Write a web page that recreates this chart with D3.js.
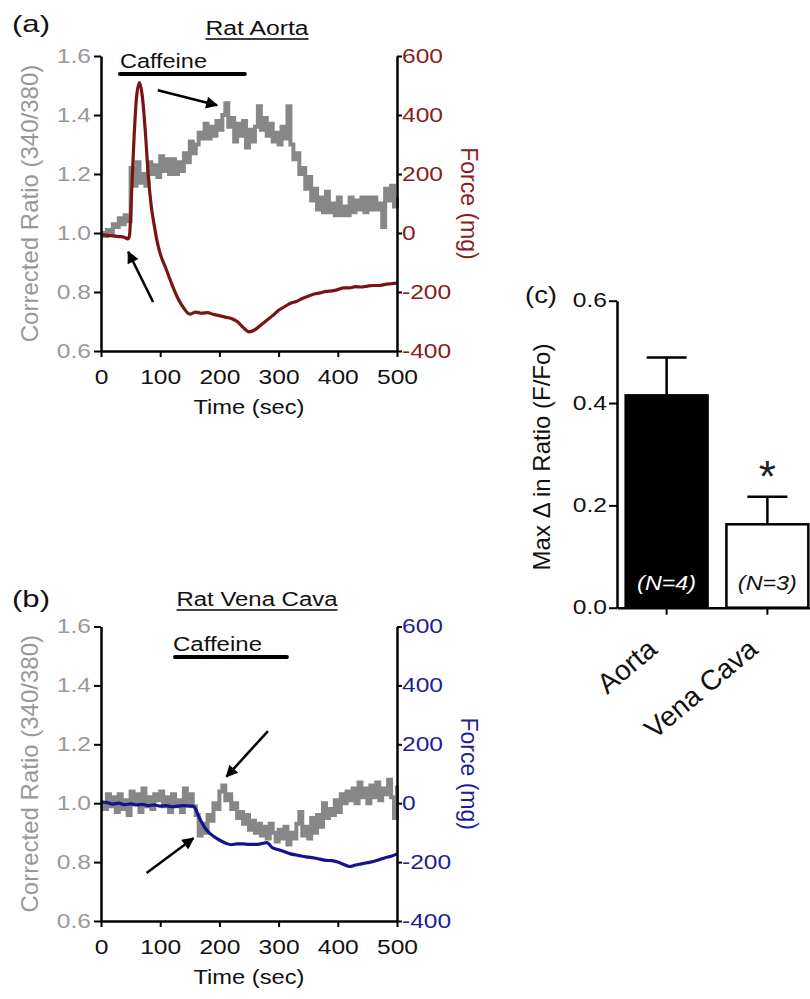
<!DOCTYPE html>
<html><head><meta charset="utf-8">
<script src="https://cdn.jsdelivr.net/npm/d3@7"></script>
<style>body{margin:0;background:#fff}svg text{font-family:"Liberation Sans",Arial,Helvetica,sans-serif}</style>
</head><body><svg id="c" width="810" height="999"></svg>
<script>
// ---------------- data ----------------
const sampleTimes = [0,5,10,15,20,25,30,35,40,45,50,55,60,65,70,75,80,85,90,95,100,105,110,115,120,125,130,135,140,145,150,155,160,165,170,175,180,185,190,195,200,205,210,215,220,225,230,235,240,245,250,255,260,265,270,275,280,285,290,295,300,305,310,315,320,325,330,335,340,345,350,355,360,365,370,375,380,385,390,395,400,405,410,415,420,425,430,435,440,445,450,455,460,465,470,475,480,485,490,495,500];
const ratioAorta = [1.00,0.99,1.01,1.00,1.03,1.02,1.05,1.03,1.06,1.04,1.22,1.16,1.24,1.17,1.20,1.16,1.24,1.20,1.23,1.19,1.26,1.21,1.25,1.20,1.25,1.20,1.24,1.21,1.27,1.24,1.31,1.27,1.30,1.34,1.32,1.37,1.32,1.36,1.33,1.38,1.35,1.40,1.44,1.36,1.39,1.31,1.37,1.33,1.38,1.29,1.35,1.31,1.36,1.43,1.35,1.39,1.33,1.37,1.31,1.34,1.30,1.36,1.32,1.43,1.30,1.25,1.27,1.20,1.22,1.15,1.19,1.11,1.15,1.08,1.12,1.07,1.14,1.07,1.10,1.06,1.12,1.06,1.09,1.06,1.12,1.07,1.11,1.08,1.12,1.07,1.12,1.08,1.12,1.08,1.10,1.02,1.15,1.11,1.16,1.09,1.12];
const forceAortaTimes = [0,10,20,30,40,45,48,52,56,60,65,70,75,80,85,90,95,100,110,120,130,140,150,160,170,180,190,200,210,220,230,240,250,260,270,280,290,300,310,320,330,340,350,360,370,380,390,400,410,420,430,440,450,460,470,480,490,500];
const forceAorta = [-5,-8,-10,-12,-15,-20,-10,150,330,460,510,460,340,190,90,25,-30,-70,-122,-175,-222,-255,-275,-268,-272,-270,-276,-280,-285,-290,-300,-320,-335,-328,-312,-296,-280,-262,-250,-238,-232,-222,-214,-207,-203,-198,-196,-192,-186,-186,-182,-183,-180,-178,-178,-174,-172,-170];
const ratioVena = [1.00,0.98,1.03,0.99,1.02,0.97,1.03,0.98,1.01,0.96,1.04,1.00,1.03,0.97,1.05,0.99,1.02,0.98,1.03,1.01,1.04,0.99,1.02,0.97,1.03,0.99,1.01,0.97,1.05,1.00,1.03,0.99,0.96,0.89,0.93,0.90,0.96,0.94,1.00,0.98,1.04,1.06,1.01,1.03,0.98,1.00,0.95,0.97,0.93,0.96,0.91,0.94,0.90,0.93,0.89,0.92,0.88,0.93,0.90,0.87,0.91,0.88,0.92,0.86,0.90,0.88,0.93,0.97,0.89,0.92,0.88,0.95,0.90,0.96,0.92,1.00,0.95,0.98,0.96,1.01,0.97,1.03,1.00,1.04,1.01,1.05,1.00,1.07,1.02,1.05,1.00,1.06,1.02,1.07,1.01,1.05,1.03,1.08,1.02,0.95,1.06];
const forceVenaTimes = [0,10,20,30,40,50,60,70,80,90,100,110,120,130,140,150,155,160,165,170,175,180,190,200,210,220,230,240,250,260,270,280,290,300,310,320,330,340,350,360,370,380,390,400,410,420,430,440,450,460,470,480,490,500];
const forceVena = [5,2,-3,0,-5,-2,-6,-4,-8,-6,-10,-8,-12,-10,-8,-10,-10,-20,-45,-65,-82,-95,-112,-125,-135,-141,-138,-138,-140,-140,-138,-134,-152,-158,-165,-172,-176,-180,-183,-186,-190,-194,-195,-200,-208,-215,-210,-206,-202,-198,-192,-185,-180,-172];
const ratioTicks = [0.6,0.8,1.0,1.2,1.4,1.6];
const forceTicks = [-400,-200,0,200,400,600];
const timeTicks = [0,100,200,300,400,500];
const caffeineA = [32,243];
const caffeineB = [125,314];
// arrows: [tailTime, tailRatio, headTime, headRatio]
const arrowsA = [[96,1.484,196,1.433],[88,0.766,46,0.936]];
const arrowsB = [[282,1.245,212,1.09],[77,0.763,156,0.881]];
const barCategories = ["Aorta","Vena Cava"];
const barMeans = [0.415,0.163];
const barSEM = [0.074,0.054];
const barN = ["(N=4)","(N=3)"];
const barTicks = [0,0.2,0.4,0.6];

// ---------------- drawing ----------------
const svg = d3.select("#c");
const FS = 19.5, W = 1.26; // font size and horizontal widening of text
function widen(sel, f){ sel.each(function(){ const L=this.getComputedTextLength(); this.setAttribute("textLength",(L*f).toFixed(1)); this.setAttribute("lengthAdjust","spacingAndGlyphs"); }); }
function htext(txt, x, y, opt={}){
  const t = svg.append("text").attr("x",x).attr("y",y).text(txt)
    .attr("font-size", opt.size||FS).attr("fill", opt.fill||"#111")
    .attr("text-anchor", opt.anchor||"start")
    .attr("font-style", opt.italic?"italic":null);
  if (opt.width) { t.attr("textLength",opt.width).attr("lengthAdjust","spacingAndGlyphs"); }
  else widen(t, opt.f||W);
  return t;
}
function vtext(txt, x, y, rot, opt={}){
  return svg.append("text").attr("transform",`translate(${x},${y}) rotate(${rot})`)
    .attr("text-anchor","middle").attr("font-size",opt.size||24).attr("fill",opt.fill||"#111").text(txt);
}
const defs = svg.append("defs");
defs.append("marker").attr("id","ah").attr("viewBox","0 0 10 10").attr("refX",9).attr("refY",5)
  .attr("markerWidth",15).attr("markerHeight",12).attr("markerUnits","userSpaceOnUse").attr("orient","auto")
  .append("path").attr("d","M0,0 L10,5 L0,10 z").attr("fill","#000");

function styleAxis(g, color){
  g.attr("font-family",null);
  g.select(".domain").attr("stroke","#000").attr("stroke-width",2.5);
  g.selectAll(".tick line").attr("stroke","#000").attr("stroke-width",2);
  g.selectAll(".tick text").attr("font-size",FS).attr("fill",color);
  widen(g.selectAll(".tick text"), W);
}

function tracePanel(p){
  const x = d3.scaleLinear().domain([0,500]).range([101,397]);
  const yR = d3.scaleLinear().domain([0.6,1.6]).range([p.bottom,p.top]);
  const yF = d3.scaleLinear().domain([-400,600]).range([p.bottom,p.top]);
  const g = svg.append("g");
  g.append("path").datum(d3.zip(sampleTimes,p.ratio))
    .attr("d", d3.line().x(d=>x(d[0])).y(d=>yR(d[1])).curve(d3.curveStepAfter))
    .attr("fill","none").attr("stroke","#878787").attr("stroke-width",4);
  g.append("path").datum(d3.zip(p.forceT,p.force))
    .attr("d", d3.line().x(d=>x(d[0])).y(d=>yF(d[1])).curve(d3.curveMonotoneX))
    .attr("fill","none").attr("stroke",p.color).attr("stroke-width",3.2);
  const gx = g.append("g").attr("transform",`translate(0,${p.bottom})`)
    .call(d3.axisBottom(x).tickValues(timeTicks).tickSize(6).tickPadding(13).tickSizeOuter(0).tickFormat(d=>String(d)));
  styleAxis(gx,"#111");
  const gl = g.append("g").attr("transform","translate(101,0)")
    .call(d3.axisLeft(yR).tickValues(ratioTicks).tickSize(7).tickPadding(3).tickSizeOuter(0).tickFormat(d3.format(".1f")));
  styleAxis(gl,"#999");
  const gr = g.append("g").attr("transform","translate(397,0)")
    .call(d3.axisRight(yF).tickValues(forceTicks).tickSize(5).tickPadding(0).tickSizeOuter(0).tickFormat(d=>String(d)));
  styleAxis(gr,p.labelColor);
  // caffeine bar
  g.append("line").attr("x1",x(p.caff[0])).attr("x2",x(p.caff[1])).attr("y1",p.caffY).attr("y2",p.caffY)
    .attr("stroke","#000").attr("stroke-width",4).attr("stroke-linecap","round");
  htext("Caffeine", x(p.caff[0])+p.caffDx, p.caffY-6, {width:p.caffW});
  // arrows
  p.arrows.forEach(a=>{
    g.append("line").attr("x1",x(a[0])).attr("y1",yR(a[1])).attr("x2",x(a[2])).attr("y2",yR(a[3]))
      .attr("stroke","#000").attr("stroke-width",2.5).attr("marker-end","url(#ah)");
  });
  // titles & labels
  htext(p.panel, 12, p.panelY, {size:24, width:38});
  htext(p.title, 257, p.titleY, {anchor:"middle", width:p.titleW});
  g.append("line").attr("x1",257-p.titleW/2).attr("x2",257+p.titleW/2).attr("y1",p.titleY+4).attr("y2",p.titleY+4)
    .attr("stroke","#000").attr("stroke-width",1.6);
  htext("Time (sec)", 249, p.bottom+63, {anchor:"middle", width:111});
  vtext("Corrected Ratio (340/380)", 38, (p.top+p.bottom)/2, -90, {fill:"#999"});
  vtext("Force (mg)", 461, (p.top+p.bottom)/2, 90, {fill:p.labelColor, size:23});
}

tracePanel({top:56, bottom:351, ratio:ratioAorta, forceT:forceAortaTimes, force:forceAorta,
  color:"#7a1414", labelColor:"#8a1c1c", caff:caffeineA, caffY:74, caffDx:0, caffW:87,
  arrows:arrowsA, panel:"(a)", panelY:32, title:"Rat  Aorta", titleY:35, titleW:103});
tracePanel({top:626.5, bottom:921, ratio:ratioVena, forceT:forceVenaTimes, force:forceVena,
  color:"#14148c", labelColor:"#1e1e96", caff:caffeineB, caffY:657, caffDx:-2, caffW:89,
  arrows:arrowsB, panel:"(b)", panelY:607, title:"Rat Vena Cava", titleY:606, titleW:161});

// ---------------- panel (c) ----------------
const xb = d3.scaleBand().domain(barCategories).range([617,817]).paddingInner(0.187).paddingOuter(0.086);
const yb = d3.scaleLinear().domain([0,0.6]).range([607.7,300.7]);
const gc = svg.append("g");
const bars = barCategories.map((c,i)=>({c, m:barMeans[i], s:barSEM[i], n:barN[i], i}));
gc.selectAll("line.err").data(bars).enter().append("line")
  .attr("x1",d=>xb(d.c)+xb.bandwidth()/2).attr("x2",d=>xb(d.c)+xb.bandwidth()/2)
  .attr("y1",d=>yb(d.m)).attr("y2",d=>yb(d.m+d.s)).attr("stroke","#000").attr("stroke-width",2.5);
gc.selectAll("line.cap").data(bars).enter().append("line")
  .attr("x1",d=>xb(d.c)+xb.bandwidth()/2-20).attr("x2",d=>xb(d.c)+xb.bandwidth()/2+20)
  .attr("y1",d=>yb(d.m+d.s)).attr("y2",d=>yb(d.m+d.s)).attr("stroke","#000").attr("stroke-width",2.5);
gc.selectAll("rect").data(bars).enter().append("rect")
  .attr("x",d=>xb(d.c)).attr("width",xb.bandwidth()).attr("y",d=>yb(d.m)).attr("height",d=>yb(0)-yb(d.m))
  .attr("fill",d=>d.i===0?"#000":"#fff").attr("stroke","#000").attr("stroke-width",2.5);
const gcx = gc.append("g").attr("transform","translate(0,607.7)")
  .call(d3.axisBottom(xb).tickSize(7).tickSizeOuter(0).tickFormat(""));
styleAxis(gcx,"#000");
const gcy = gc.append("g").attr("transform","translate(617,0)")
  .call(d3.axisLeft(yb).tickValues(barTicks).tickSize(8).tickPadding(2).tickSizeOuter(0).tickFormat(d3.format(".1f")));
styleAxis(gcy,"#111");
bars.forEach(d=>{
  htext(d.n, xb(d.c)+xb.bandwidth()/2, 590, {anchor:"middle", italic:true, fill:d.i===0?"#fff":"#111", width:59});
  svg.append("text").attr("transform",`translate(${xb(d.c)+xb.bandwidth()/2-8},652) rotate(-40)`)
    .attr("text-anchor","end").attr("font-size",28).attr("fill","#111").text(d.c);
});
svg.append("text").attr("x",xb("Vena Cava")+xb.bandwidth()/2).attr("y",492).attr("text-anchor","middle")
  .attr("font-size",44).attr("font-family","DejaVu Sans").attr("fill","#222").text("*");
htext("(c)", 525, 303, {size:24, width:32});
vtext("Max \u0394 in Ratio (F/Fo)", 550, 457, -90, {});
</script></body></html>
